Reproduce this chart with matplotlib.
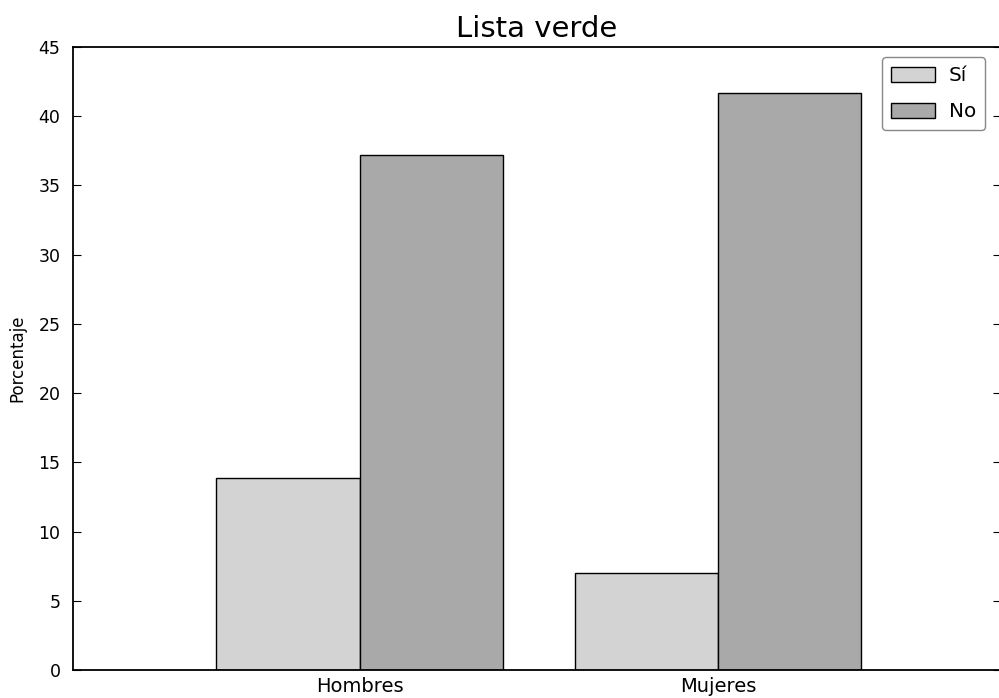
import matplotlib.pyplot as plt
import numpy as np

# categories and values (percent)
grupos = ["Hombres", "Mujeres"]
si = [13.9, 7.0]
no = [37.2, 41.7]

ind = np.arange(len(grupos))
width = 0.4

fig = plt.figure(figsize=(9.99, 6.98), dpi=100, facecolor="white")
ax = fig.add_axes([0.0731, 0.0401, 0.9289, 0.8926])

ax.bar(ind - width, si, width, align="edge", color="lightgrey",
       edgecolor="black", linewidth=1.0, label="Sí")
ax.bar(ind, no, width, align="edge", color="darkgrey",
       edgecolor="black", linewidth=1.0, label="No")

ax.set_xlim(-0.8, 1.79)
ax.set_ylim(0, 45)
ax.set_yticks(np.arange(0, 46, 5))
ax.set_xticks(ind)
ax.set_xticklabels(grupos, fontsize=14)
ax.tick_params(axis="x", length=0, pad=5)
ax.tick_params(axis="y", direction="in", length=6, right=True,
               labelsize=12.5, pad=9)

ax.set_ylabel("Porcentaje", fontsize=12, labelpad=9)
ax.set_title("Lista verde", fontsize=21, pad=7)

leg = ax.legend(loc="upper right", fontsize=14.4, fancybox=True,
                framealpha=1, edgecolor="#888888", handlelength=2.2,
                handleheight=0.8, labelspacing=0.85, borderpad=0.45,
                handletextpad=0.7, borderaxespad=0,
                bbox_to_anchor=(0.986, 0.918),
                bbox_transform=fig.transFigure)

for s in ax.spines.values():
    s.set_linewidth(1.3)

fig.savefig("out.png", dpi=100, facecolor="white")
